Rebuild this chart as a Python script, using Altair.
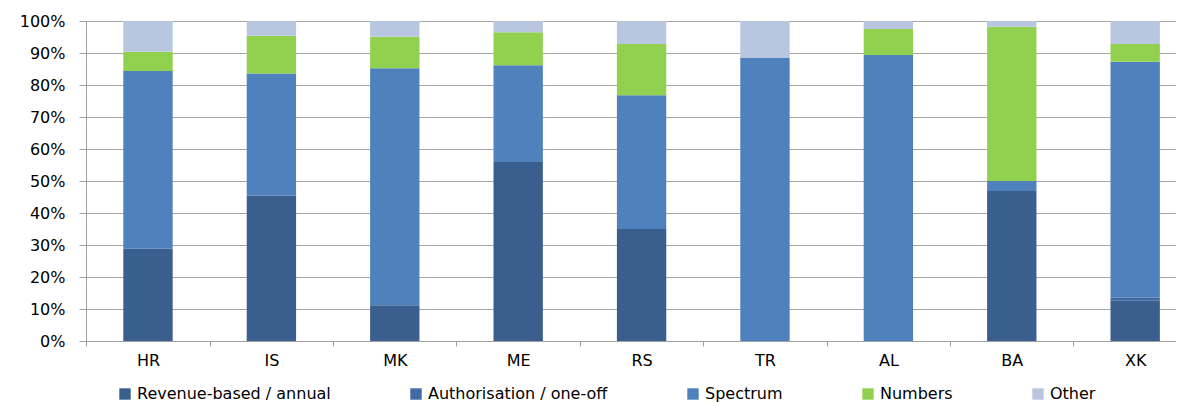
import altair as alt
import pandas as pd

countries = ["HR", "IS", "MK", "ME", "RS", "TR", "AL", "BA", "XK"]
series = ["Revenue-based / annual", "Authorisation / one-off", "Spectrum", "Numbers", "Other"]
revenue = [28.8, 45.4, 11.2, 55.9, 35.0, 0.0, 0.0, 46.9, 12.6]
authorisation = [0.0, 0.0, 0.0, 0.0, 0.0, 0.0, 0.0, 0.0, 0.9]
spectrum = [55.6, 38.2, 74.0, 30.3, 41.8, 88.6, 89.4, 3.1, 73.8]
numbers = [6.0, 11.8, 9.9, 10.3, 16.0, 0.0, 8.1, 48.2, 5.5]
other = [9.6, 4.6, 4.9, 3.5, 7.2, 11.4, 2.5, 1.8, 7.2]
colors = ["#3A5F8E", "#4169A3", "#4F81BD", "#92D050", "#B9C6E0"]
y_ticks = [0, 0.1, 0.2, 0.3, 0.4, 0.5, 0.6, 0.7, 0.8, 0.9, 1.0]

rows = []
for i, c in enumerate(countries):
    for j, (s, vals) in enumerate(zip(series, [revenue, authorisation, spectrum, numbers, other])):
        rows.append({"country": c, "series": s, "value": vals[i], "order": j})
df = pd.DataFrame(rows)

FONT = "DejaVu Sans"

chart = alt.Chart(df).mark_bar().encode(
    x=alt.X(
        "country:N", sort=countries, title=None,
        scale=alt.Scale(paddingInner=0.6, paddingOuter=0.2166, align=0.698),
        axis=alt.Axis(
            labelAngle=0, bandPosition=0.5, tickOffset=-61.7, labelOffset=61.7,
            tickSize=5, tickColor="#A0A0A0", domainColor="#A0A0A0",
            labelFont=FONT, labelFontSize=16, labelColor="#000000", labelPadding=6,
            grid=False,
        ),
    ),
    y=alt.Y(
        "value:Q", stack="normalize", title=None,
        scale=alt.Scale(domain=[0, 1], nice=False),
        axis=alt.Axis(
            values=y_ticks, format=".0%", tickSize=7, tickColor="#A0A0A0",
            domainColor="#A0A0A0", gridColor="#A6A6A6", grid=True,
            labelFont=FONT, labelFontSize=16, labelColor="#000000",
            labelPadding=14, minExtent=78,
        ),
    ),
    color=alt.Color(
        "series:N",
        scale=alt.Scale(domain=series, range=colors),
        legend=alt.Legend(
            title=None, orient="none", direction="horizontal",
            legendX=31, legendY=365,
            symbolType="square", symbolSize=130, symbolStrokeWidth=0,
            labelFont=FONT, labelFontSize=16, labelColor="#000000",
            labelLimit=500, columnPadding=77,
        ),
    ),
    order=alt.Order("order:Q", sort="ascending"),
).properties(
    width=1090, height=320,
    padding={"left": 0, "top": 5, "right": 0, "bottom": 0},
).configure_view(stroke=None)

chart.save("out.html", embed_options={"renderer": "svg", "actions": False})
